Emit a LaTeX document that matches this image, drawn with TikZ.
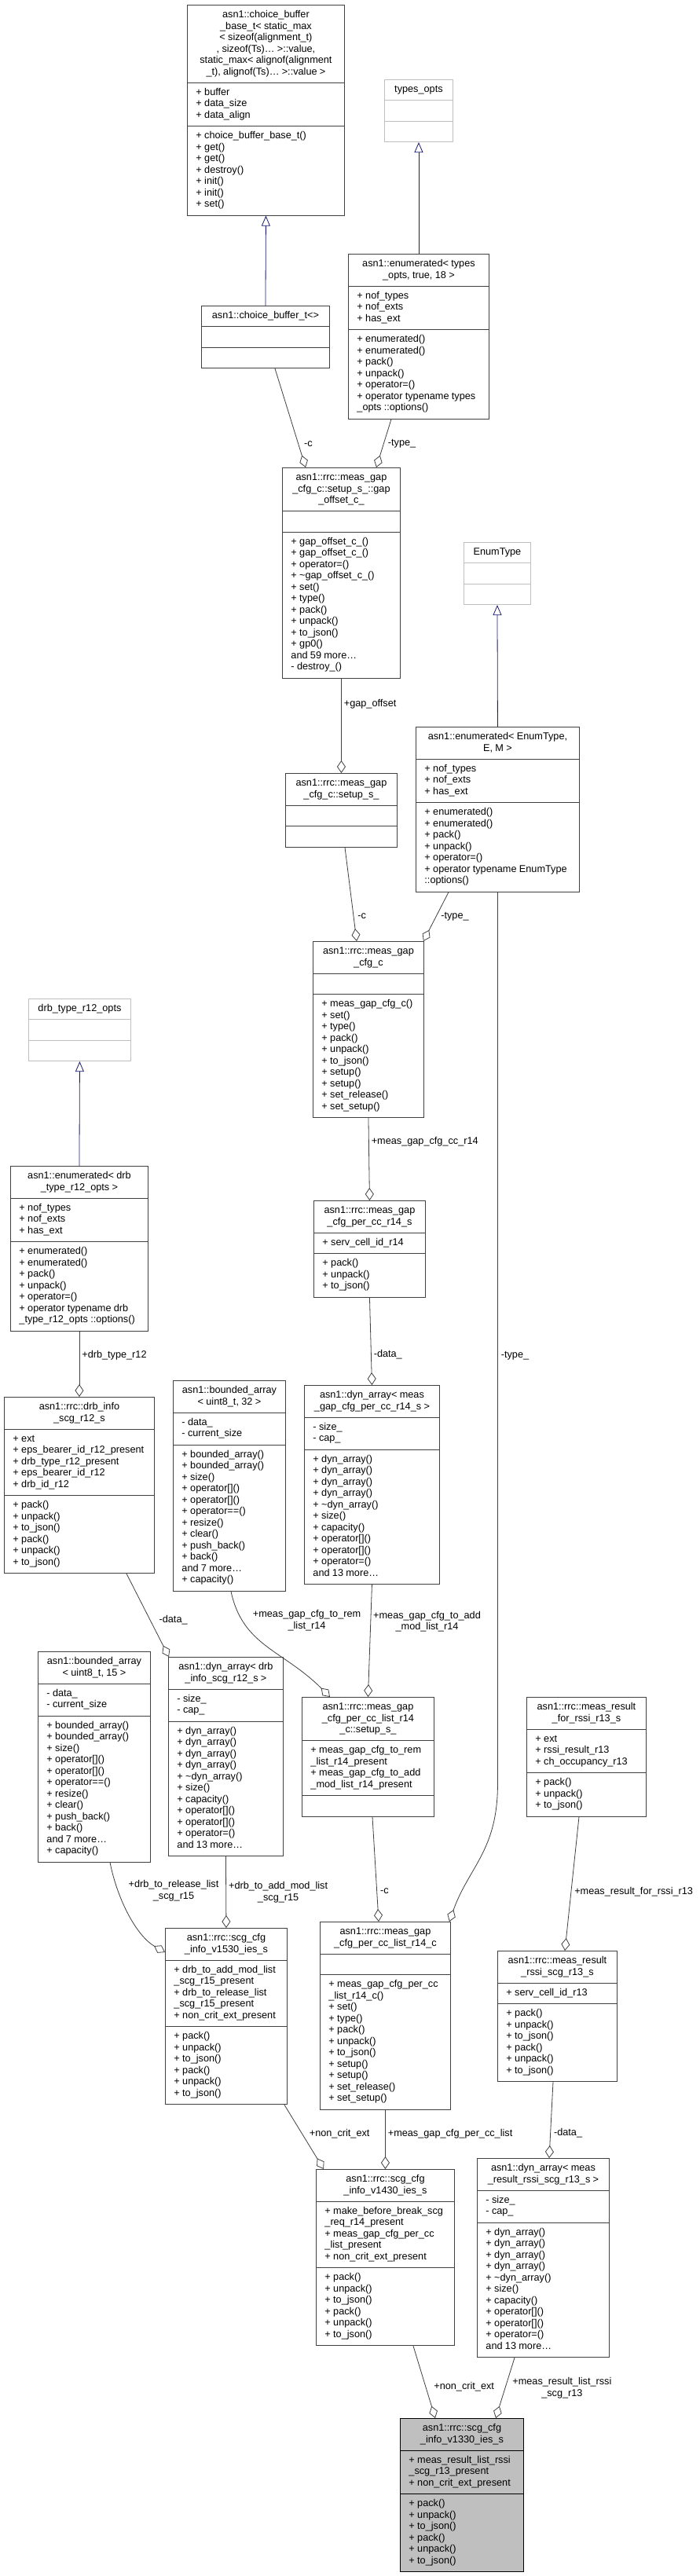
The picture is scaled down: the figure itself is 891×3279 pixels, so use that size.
\documentclass[tikz,border=0pt]{standalone}
\usepackage{fontspec}
\setmainfont{Liberation Sans}
\usetikzlibrary{shapes.multipart,arrows.meta,calc,positioning}
\definecolor{edgegray}{HTML}{404040}
\definecolor{linkblue}{RGB}{25,25,112}
\definecolor{nodocgray}{HTML}{BFBFBF}
\newcommand\clsfont{\fontsize{12.7}{14.5}\selectfont}
\newcommand\cstrut{\leavevmode\vrule height 10.15pt depth 4.35pt width 0pt}
\newcommand\classparts[3]{{\clsfont\centering\cstrut#1\cstrut\par}\nodepart{two}{\clsfont\leftskip=9pt\cstrut#2\cstrut\par}\nodepart{three}{\clsfont\leftskip=9pt\cstrut#3\cstrut\par}}

\begin{document}
\begin{tikzpicture}[x=1pt,y=-1pt]
         \tikzset{cls/.style={draw=edgegray, line width=0.9pt, fill=white, rectangle split, rectangle split parts=3, align=left, inner xsep=2pt, inner ysep=5.5pt, anchor=north west}}
         \tikzset{nodoc/.style={cls, draw=nodocgray}}
         \tikzset{agg/.style={edgegray, line width=0.8pt, -{Diamond[open, length=16pt, width=11pt]}}}
         \tikzset{inherit/.style={linkblue, line width=0.8pt, -{Triangle[open, length=13pt, width=11pt]}}}
         \tikzset{lbl/.style={font=\clsfont, inner sep=1pt, align=center, text=black}}
         \useasboundingbox (0,0) rectangle (891,3279);
         \fill[white] (0,0) rectangle (891,3279);

         \node[cls, text width=196pt] (cbb) at (238,6) {\classparts
            {asn1::choice\_buffer\\\_base\_t< static\_max\\< sizeof(alignment\_t)\\, sizeof(Ts)\ldots{} >::value,\\ static\_max< alignof(alignment\\\_t), alignof(Ts)\ldots{} >::value >}
            {+ buffer\\+ data\_size\\+ data\_align}
            {+ choice\_buffer\_base\_t()\\+ get()\\+ get()\\+ destroy()\\+ init()\\+ init()\\+ set()}};
         \node[nodoc, text width=83pt] (topts) at (489,101) {\classparts{types\_opts}{}{}};
         \node[cls, text width=159pt] (cbt) at (256,389) {\classparts{asn1::choice\_buffer\_t<>}{}{}};
         \node[cls, text width=175pt] (enumtypes) at (443,323) {\classparts
            {asn1::enumerated< types\\\_opts, true, 18 >}
            {+ nof\_types\\+ nof\_exts\\+ has\_ext}
            {+ enumerated()\\+ enumerated()\\+ pack()\\+ unpack()\\+ operator=()\\+ operator typename types\\\_opts ::options()}};
         \node[cls, text width=146pt] (gapoff) at (359,595) {\classparts
            {asn1::rrc::meas\_gap\\\_cfg\_c::setup\_s\_::gap\\\_offset\_c\_}
            {}
            {+ gap\_offset\_c\_()\\+ gap\_offset\_c\_()\\+ operator=()\\+ \textasciitilde gap\_offset\_c\_()\\+ set()\\+ type()\\+ pack()\\+ unpack()\\+ to\_json()\\+ gp0()\\and 59 more\ldots\\- destroy\_()}};
         \node[nodoc, text width=81pt] (enumt) at (590,690) {\classparts{EnumType}{}{}};
         \node[cls, text width=204pt] (enumE) at (529,925) {\classparts
            {asn1::enumerated< EnumType,\\E, M >}
            {+ nof\_types\\+ nof\_exts\\+ has\_ext}
            {+ enumerated()\\+ enumerated()\\+ pack()\\+ unpack()\\+ operator=()\\+ operator typename EnumType\\::options()}};
         \node[cls, text width=138pt] (setup) at (363,984) {\classparts{asn1::rrc::meas\_gap\\\_cfg\_c::setup\_s\_}{}{}};
         \node[cls, text width=137pt] (mgc) at (398,1198) {\classparts
            {asn1::rrc::meas\_gap\\\_cfg\_c}
            {}
            {+ meas\_gap\_cfg\_c()\\+ set()\\+ type()\\+ pack()\\+ unpack()\\+ to\_json()\\+ setup()\\+ setup()\\+ set\_release()\\+ set\_setup()}};
         \node[cls, text width=138pt] (percc) at (399,1528) {\classparts
            {asn1::rrc::meas\_gap\\\_cfg\_per\_cc\_r14\_s}
            {+ serv\_cell\_id\_r14}
            {+ pack()\\+ unpack()\\+ to\_json()}};
         \node[nodoc, text width=126pt] (drbopts) at (36,1271) {\classparts{drb\_type\_r12\_opts}{}{}};
         \node[cls, text width=171pt] (enumdrb) at (13,1484) {\classparts
            {asn1::enumerated< drb\\\_type\_r12\_opts >}
            {+ nof\_types\\+ nof\_exts\\+ has\_ext}
            {+ enumerated()\\+ enumerated()\\+ pack()\\+ unpack()\\+ operator=()\\+ operator typename drb\\\_type\_r12\_opts ::options()}};
         \node[cls, text width=187pt] (drbinfo) at (5,1778) {\classparts
            {asn1::rrc::drb\_info\\\_scg\_r12\_s}
            {+ ext\\+ eps\_bearer\_id\_r12\_present\\+ drb\_type\_r12\_present\\+ eps\_bearer\_id\_r12\\+ drb\_id\_r12}
            {+ pack()\\+ unpack()\\+ to\_json()\\+ pack()\\+ unpack()\\+ to\_json()}};
         \node[cls, text width=139pt] (bound32) at (220,1757) {\classparts
            {asn1::bounded\_array\\< uint8\_t, 32 >}
            {- data\_\\- current\_size}
            {+ bounded\_array()\\+ bounded\_array()\\+ size()\\+ operator[]()\\+ operator[]()\\+ operator==()\\+ resize()\\+ clear()\\+ push\_back()\\+ back()\\and 7 more\ldots\\+ capacity()}};
         \node[cls, text width=168pt] (dynpercc) at (387,1763) {\classparts
            {asn1::dyn\_array< meas\\\_gap\_cfg\_per\_cc\_r14\_s >}
            {- size\_\\- cap\_}
            {+ dyn\_array()\\+ dyn\_array()\\+ dyn\_array()\\+ dyn\_array()\\+ \textasciitilde dyn\_array()\\+ size()\\+ capacity()\\+ operator[]()\\+ operator[]()\\+ operator=()\\and 13 more\ldots}};
         \node[cls, text width=139pt] (bound15) at (48,2102) {\classparts
            {asn1::bounded\_array\\< uint8\_t, 15 >}
            {- data\_\\- current\_size}
            {+ bounded\_array()\\+ bounded\_array()\\+ size()\\+ operator[]()\\+ operator[]()\\+ operator==()\\+ resize()\\+ clear()\\+ push\_back()\\+ back()\\and 7 more\ldots\\+ capacity()}};
         \node[cls, text width=142pt] (dyndrb) at (214,2109) {\classparts
            {asn1::dyn\_array< drb\\\_info\_scg\_r12\_s >}
            {- size\_\\- cap\_}
            {+ dyn\_array()\\+ dyn\_array()\\+ dyn\_array()\\+ dyn\_array()\\+ \textasciitilde dyn\_array()\\+ size()\\+ capacity()\\+ operator[]()\\+ operator[]()\\+ operator=()\\and 13 more\ldots}};
         \node[cls, text width=164pt] (ccsetup) at (384,2160) {\classparts
            {asn1::rrc::meas\_gap\\\_cfg\_per\_cc\_list\_r14\\\_c::setup\_s\_}
            {+ meas\_gap\_cfg\_to\_rem\\\_list\_r14\_present\\+ meas\_gap\_cfg\_to\_add\\\_mod\_list\_r14\_present}
            {}};
         \node[cls, text width=148pt] (rssi13) at (670,2160) {\classparts
            {asn1::rrc::meas\_result\\\_for\_rssi\_r13\_s}
            {+ ext\\+ rssi\_result\_r13\\+ ch\_occupancy\_r13}
            {+ pack()\\+ unpack()\\+ to\_json()}};
         \node[cls, text width=151pt] (v1530) at (210,2454) {\classparts
            {asn1::rrc::scg\_cfg\\\_info\_v1530\_ies\_s}
            {+ drb\_to\_add\_mod\_list\\\_scg\_r15\_present\\+ drb\_to\_release\_list\\\_scg\_r15\_present\\+ non\_crit\_ext\_present}
            {+ pack()\\+ unpack()\\+ to\_json()\\+ pack()\\+ unpack()\\+ to\_json()}};
         \node[cls, text width=162pt] (cclist) at (407,2446) {\classparts
            {asn1::rrc::meas\_gap\\\_cfg\_per\_cc\_list\_r14\_c}
            {}
            {+ meas\_gap\_cfg\_per\_cc\\\_list\_r14\_c()\\+ set()\\+ type()\\+ pack()\\+ unpack()\\+ to\_json()\\+ setup()\\+ setup()\\+ set\_release()\\+ set\_setup()}};
         \node[cls, text width=148pt] (rssiscg) at (633,2483) {\classparts
            {asn1::rrc::meas\_result\\\_rssi\_scg\_r13\_s}
            {+ serv\_cell\_id\_r13}
            {+ pack()\\+ unpack()\\+ to\_json()\\+ pack()\\+ unpack()\\+ to\_json()}};
         \node[cls, text width=172pt] (v1430) at (402,2761) {\classparts
            {asn1::rrc::scg\_cfg\\\_info\_v1430\_ies\_s}
            {+ make\_before\_break\_scg\\\_req\_r14\_present\\+ meas\_gap\_cfg\_per\_cc\\\_list\_present\\+ non\_crit\_ext\_present}
            {+ pack()\\+ unpack()\\+ to\_json()\\+ pack()\\+ unpack()\\+ to\_json()}};
         \node[cls, text width=164pt] (dynrssi) at (607,2747) {\classparts
            {asn1::dyn\_array< meas\\\_result\_rssi\_scg\_r13\_s >}
            {- size\_\\- cap\_}
            {+ dyn\_array()\\+ dyn\_array()\\+ dyn\_array()\\+ dyn\_array()\\+ \textasciitilde dyn\_array()\\+ size()\\+ capacity()\\+ operator[]()\\+ operator[]()\\+ operator=()\\and 13 more\ldots}};
         \node[cls, draw=black, fill=nodocgray, text width=153pt] (v1330) at (509,3078) {\classparts
            {asn1::rrc::scg\_cfg\\\_info\_v1330\_ies\_s}
            {+ meas\_result\_list\_rssi\\\_scg\_r13\_present\\+ non\_crit\_ext\_present}
            {+ pack()\\+ unpack()\\+ to\_json()\\+ pack()\\+ unpack()\\+ to\_json()}};

         \draw[inherit] (cbt.north) -- (cbb.south);
         \draw[inherit] (enumtypes.north) -- (topts.south);
         \draw[inherit] (enumE.north) -- (enumt.south);
         \draw[inherit] (enumdrb.north) -- (drbopts.south);

         \draw[agg] ($(cbt.south west)+(94,0)$) -- node[lbl, pos=0.76, right=6pt] {-c} ($(gapoff.north west)+(30,0)$);
         \draw[agg] ($(enumtypes.south west)+(55,0)$) -- node[lbl, pos=0.5, right=4pt] {-type\_} ($(gapoff.north west)+(120,0)$);
         \draw[agg] (gapoff.south) -- node[lbl, pos=0.27, right=2pt] {+gap\_offset} (setup.north);
         \draw[agg] ($(setup.south west)+(76,0)$) -- node[lbl, pos=0.73, right=4pt] {-c} ($(mgc.north west)+(56,0)$);
         \draw[agg] ($(enumE.south west)+(42,0)$) -- node[lbl, pos=0.5, right=5pt] {-type\_} ($(mgc.north east)+(-1,0)$);
         \draw[agg] (enumE.south) -- node[lbl, pos=0.52, right=3pt] {-type\_} ($(enumE.south)+(0,1135)$)
            .. controls ($(enumE.south)+(0,1220)$) and ($(cclist.north east)+(23,-70)$) .. ($(cclist.north east)+(-2,0)$);
         \draw[agg] (mgc.south) -- node[lbl, pos=0.29, right=2pt] {+meas\_gap\_cfg\_cc\_r14} (percc.north);
         \draw[agg] (percc.south) -- node[lbl, pos=0.65, right=2pt] {-data\_} (dynpercc.north);
         \draw[agg] (enumdrb.south) -- node[lbl, pos=0.37, right=2pt] {+drb\_type\_r12} (drbinfo.north);
         \draw[agg] ($(drbinfo.south west)+(156,0)$) -- node[lbl, pos=0.56, right=10pt] {-data\_} ($(dyndrb.north west)+(1,0)$);
         \draw[agg] ($(bound32.south west)+(74,0)$) .. controls +(15,70) and +(-60,-60) ..
            node[lbl, pos=0.3, anchor=south west, xshift=4pt, yshift=-3pt] {+meas\_gap\_cfg\_to\_rem\\\_list\_r14} ($(ccsetup.north west)+(36,0)$);
         \draw[agg] (dynpercc.south) -- node[lbl, pos=0.33, right=2pt] {+meas\_gap\_cfg\_to\_add\\\_mod\_list\_r14} (ccsetup.north);
         \draw[agg] ($(ccsetup.south west)+(90,0)$) -- node[lbl, pos=0.71, right=3pt] {-c} ($(cclist.north west)+(75,0)$);
         \draw[agg] ($(rssi13.south west)+(67,0)$) -- node[lbl, pos=0.56, right=3pt] {+meas\_result\_for\_rssi\_r13} ($(rssiscg.north west)+(86,0)$);
         \draw[agg] ($(bound15.south west)+(92,0)$) .. controls +(10,50) and +(-35,-20) ..
            node[lbl, pos=0.25, right=12pt] {+drb\_to\_release\_list\\\_scg\_r15} ($(v1530.north west)+(0,31)$);
         \draw[agg] (dyndrb.south) -- node[lbl, pos=0.5, right=2pt] {+drb\_to\_add\_mod\_list\\\_scg\_r15} (v1530.north);
         \draw[agg] ($(v1530.south east)+(-4,0)$) -- node[lbl, pos=0.45, right=8pt] {+non\_crit\_ext} ($(v1430.north west)+(10,0)$);
         \draw[agg] (cclist.south) -- node[lbl, pos=0.41, right=2pt] {+meas\_gap\_cfg\_per\_cc\_list} (v1430.north);
         \draw[agg] ($(rssiscg.south west)+(71,0)$) -- node[lbl, pos=0.67, right=3pt] {-data\_} ($(dynrssi.north west)+(92,0)$);
         \draw[agg] ($(v1430.south west)+(124,0)$) -- node[lbl, pos=0.57, right=9pt] {+non\_crit\_ext} ($(v1330.north west)+(45,0)$);
         \draw[agg] ($(dynrssi.south west)+(48,0)$) -- node[lbl, pos=0.5, right=8pt] {+meas\_result\_list\_rssi\\\_scg\_r13} ($(v1330.north west)+(122,0)$);
      \end{tikzpicture}
\end{document}
